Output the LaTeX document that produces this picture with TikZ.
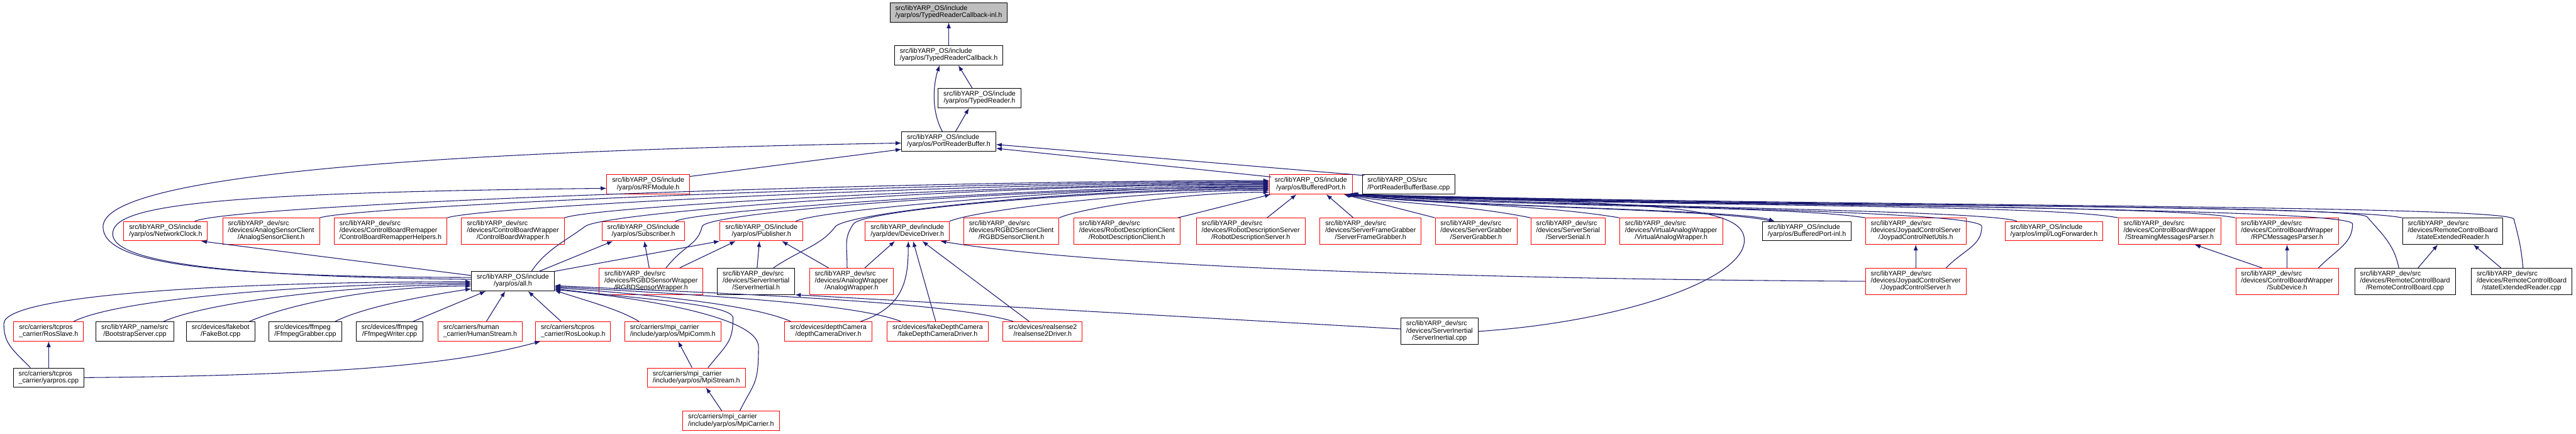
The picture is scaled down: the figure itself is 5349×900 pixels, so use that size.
\documentclass[tikz,border=0pt]{standalone}
\usepackage{fontspec}
\setmainfont{Liberation Sans}
\usetikzlibrary{arrows.meta,calc}
\definecolor{edgeblue}{RGB}{25,25,112}
\newcommand{\mytwo}[2]{\begin{tabular}{@{}l@{}}#1\\\multicolumn{1}{@{}c@{}}{#2}\end{tabular}}
\newcommand{\mythree}[3]{\begin{tabular}{@{}l@{}}#1\\#2\\\multicolumn{1}{@{}c@{}}{#3}\end{tabular}}

\begin{document}
\begin{tikzpicture}[
    x=0.5pt, y=-0.5pt,
    myfile/.style={draw=black, fill=white, line width=0.6pt, inner xsep=5.5pt, inner ysep=2.8pt,
        font=\fontsize{7}{7.2}\selectfont},
    mytrunc/.style={myfile, draw=red},
    myedge/.style={->, >={Latex[length=6pt,width=4.5pt]}, edgeblue, line width=0.7pt}
]
    \useasboundingbox (0,0) rectangle (5349,900);

    % Header chain
    \node[myfile, fill=black!25] (inl) at (1970,26) {\mytwo{src/libYARP\_OS/include}{/yarp/os/TypedReaderCallback-inl.h}};
    \node[myfile] (cb) at (1970,115) {\mytwo{src/libYARP\_OS/include}{/yarp/os/TypedReaderCallback.h}};
    \node[myfile] (tr) at (2034,204) {\mytwo{src/libYARP\_OS/include}{/yarp/os/TypedReader.h}};
    \node[myfile] (prb) at (1970,294) {\mytwo{src/libYARP\_OS/include}{/yarp/os/PortReaderBuffer.h}};
    \node[mytrunc] (rfm) at (1346,383) {\mytwo{src/libYARP\_OS/include}{/yarp/os/RFModule.h}};
    \node[mytrunc] (bp) at (2722,383) {\mytwo{src/libYARP\_OS/include}{/yarp/os/BufferedPort.h}};
    \node[myfile] (prbb) at (2925,383) {\mytwo{src/libYARP\_OS/src}{/PortReaderBufferBase.cpp}};

    % Row under BufferedPort.h
    \node[mytrunc] (nclk) at (344,480) {\mytwo{src/libYARP\_OS/include}{/yarp/os/NetworkClock.h}};
    \node[mytrunc] (ascl) at (563,480) {\mythree{src/libYARP\_dev/src}{/devices/AnalogSensorClient}{/AnalogSensorClient.h}};
    \node[mytrunc] (cbrh) at (811,480) {\mythree{src/libYARP\_dev/src}{/devices/ControlBoardRemapper}{/ControlBoardRemapperHelpers.h}};
    \node[mytrunc] (cbwh) at (1065,480) {\mythree{src/libYARP\_dev/src}{/devices/ControlBoardWrapper}{/ControlBoardWrapper.h}};
    \node[mytrunc] (sub) at (1336,480) {\mytwo{src/libYARP\_OS/include}{/yarp/os/Subscriber.h}};
    \node[mytrunc] (pub) at (1581,480) {\mytwo{src/libYARP\_OS/include}{/yarp/os/Publisher.h}};
    \node[mytrunc] (ddrv) at (1884,480) {\mytwo{src/libYARP\_dev/include}{/yarp/dev/DeviceDriver.h}};
    \node[mytrunc] (rgbdc) at (2100,480) {\mythree{src/libYARP\_dev/src}{/devices/RGBDSensorClient}{/RGBDSensorClient.h}};
    \node[mytrunc] (rdc) at (2340,480) {\mythree{src/libYARP\_dev/src}{/devices/RobotDescriptionClient}{/RobotDescriptionClient.h}};
    \node[mytrunc] (rds) at (2597,480) {\mythree{src/libYARP\_dev/src}{/devices/RobotDescriptionServer}{/RobotDescriptionServer.h}};
    \node[mytrunc] (sfg) at (2846,480) {\mythree{src/libYARP\_dev/src}{/devices/ServerFrameGrabber}{/ServerFrameGrabber.h}};
    \node[mytrunc] (sgr) at (3065,480) {\mythree{src/libYARP\_dev/src}{/devices/ServerGrabber}{/ServerGrabber.h}};
    \node[mytrunc] (sser) at (3256,480) {\mythree{src/libYARP\_dev/src}{/devices/ServerSerial}{/ServerSerial.h}};
    \node[mytrunc] (vaw) at (3470,480) {\mythree{src/libYARP\_dev/src}{/devices/VirtualAnalogWrapper}{/VirtualAnalogWrapper.h}};
    \node[myfile] (bpinl) at (3752,480) {\mytwo{src/libYARP\_OS/include}{/yarp/os/BufferedPort-inl.h}};
    \node[mytrunc] (jcnu) at (3978,480) {\mythree{src/libYARP\_dev/src}{/devices/JoypadControlServer}{/JoypadControlNetUtils.h}};
    \node[mytrunc] (logf) at (4265,480) {\mytwo{src/libYARP\_OS/include}{/yarp/os/impl/LogForwarder.h}};
    \node[mytrunc] (smp) at (4505,480) {\mythree{src/libYARP\_dev/src}{/devices/ControlBoardWrapper}{/StreamingMessagesParser.h}};
    \node[mytrunc] (rpcm) at (4749,480) {\mythree{src/libYARP\_dev/src}{/devices/ControlBoardWrapper}{/RPCMessagesParser.h}};
    \node[myfile] (serh) at (5093,480) {\mythree{src/libYARP\_dev/src}{/devices/RemoteControlBoard}{/stateExtendedReader.h}};

    % all.h row
    \node[myfile] (all) at (1065,584) {\mytwo{src/libYARP\_OS/include}{/yarp/os/all.h}};
    \node[mytrunc] (rgbdw) at (1352,584) {\mythree{src/libYARP\_dev/src}{/devices/RGBDSensorWrapper}{/RGBDSensorWrapper.h}};
    \node[myfile] (sinh) at (1570,584) {\mythree{src/libYARP\_dev/src}{/devices/ServerInertial}{/ServerInertial.h}};
    \node[mytrunc] (anw) at (1768,584) {\mythree{src/libYARP\_dev/src}{/devices/AnalogWrapper}{/AnalogWrapper.h}};
    \node[mytrunc] (jcs) at (3978,584) {\mythree{src/libYARP\_dev/src}{/devices/JoypadControlServer}{/JoypadControlServer.h}};
    \node[mytrunc] (subd) at (4749,584) {\mythree{src/libYARP\_dev/src}{/devices/ControlBoardWrapper}{/SubDevice.h}};
    \node[myfile] (rcb) at (4994,584) {\mythree{src/libYARP\_dev/src}{/devices/RemoteControlBoard}{/RemoteControlBoard.cpp}};
    \node[myfile] (sercpp) at (5236,584) {\mythree{src/libYARP\_dev/src}{/devices/RemoteControlBoard}{/stateExtendedReader.cpp}};

    % Files including all.h
    \node[mytrunc] (rsl) at (101,688) {\mytwo{src/carriers/tcpros}{\_carrier/RosSlave.h}};
    \node[myfile] (bss) at (280,688) {\mytwo{src/libYARP\_name/src}{/BootstrapServer.cpp}};
    \node[myfile] (fbot) at (458,688) {\mytwo{src/devices/fakebot}{/FakeBot.cpp}};
    \node[myfile] (ffg) at (634,688) {\mytwo{src/devices/ffmpeg}{/FfmpegGrabber.cpp}};
    \node[myfile] (ffw) at (809,688) {\mytwo{src/devices/ffmpeg}{/FfmpegWriter.cpp}};
    \node[mytrunc] (hum) at (997,688) {\mytwo{src/carriers/human}{\_carrier/HumanStream.h}};
    \node[mytrunc] (rlk) at (1190,688) {\mytwo{src/carriers/tcpros}{\_carrier/RosLookup.h}};
    \node[mytrunc] (mpic) at (1397,688) {\mytwo{src/carriers/mpi\_carrier}{/include/yarp/os/MpiComm.h}};
    \node[mytrunc] (dcam) at (1720,688) {\mytwo{src/devices/depthCamera}{/depthCameraDriver.h}};
    \node[mytrunc] (fdc) at (1947,688) {\mytwo{src/devices/fakeDepthCamera}{/fakeDepthCameraDriver.h}};
    \node[mytrunc] (rs2) at (2165,688) {\mytwo{src/devices/realsense2}{/realsense2Driver.h}};
    \node[myfile] (sicpp) at (2989,688) {\mythree{src/libYARP\_dev/src}{/devices/ServerInertial}{/ServerInertial.cpp}};
    \node[myfile] (ypr) at (101,784) {\mytwo{src/carriers/tcpros}{\_carrier/yarpros.cpp}};
    \node[mytrunc] (mpis) at (1446,784) {\mytwo{src/carriers/mpi\_carrier}{/include/yarp/os/MpiStream.h}};
    \node[mytrunc] (mpica) at (1518,874) {\mytwo{src/carriers/mpi\_carrier}{/include/yarp/os/MpiCarrier.h}};

    % Header chain edges
    \draw[myedge] (cb) -- (inl);
    \draw[myedge] ($(tr.north)+(-15,0)$) -- ($(cb.south)+(20,0)$);
    \draw[myedge] ($(prb.north)+(-13,0)$) .. controls +(-25,-45) and +(-12,35) .. ($(cb.south)+(-19,0)$);
    \draw[myedge] ($(prb.north)+(14,0)$) -- ($(tr.south)+(-22,0)$);

    % Into PortReaderBuffer.h
    \draw[myedge] ($(rfm.north east)+(0,4)$) -- ($(prb.west)+(0,16)$);
    \draw[myedge] ($(bp.north west)+(4,5)$) -- ($(prb.east)+(0,14)$);
    \draw[myedge] ($(prbb.north west)+(5,2)$) -- ($(prb.east)+(0,6)$);
    \draw[myedge] ($(all.west)+(0,-8)$) .. controls (420,575) and (212,545) .. (214,470)
        .. controls (217,380) and (700,318) .. ($(prb.west)+(0,3)$);
    \draw[myedge] ($(all.west)+(0,-4)$) .. controls (500,575) and (232,548) .. (234,485)
        .. controls (236,430) and (400,400) .. ($(rfm.west)+(0,8)$);
    \draw[myedge] ($(all.west)+(0,-12)$) -- ($(nclk.south east)+(-14,0)$);

    % Into BufferedPort.h from the left
    \draw[myedge] ($(nclk.north east)+(-27,0)$) .. controls +(80,-35) and +(-800,0) .. ($(bp.west)+(0,-8)$);
    \draw[myedge] (ascl.north east) .. controls +(80,-25) and +(-700,0) .. ($(bp.west)+(0,-6)$);
    \draw[myedge] (cbrh.north east) .. controls +(80,-25) and +(-600,0) .. ($(bp.west)+(0,-4)$);
    \draw[myedge] (cbwh.north east) .. controls +(70,-25) and +(-500,0) .. ($(bp.west)+(0,-2)$);
    \draw[myedge] ($(sub.north east)+(-20,0)$) .. controls +(50,-25) and +(-400,0) .. ($(bp.west)+(0,2)$);
    \draw[myedge] ($(pub.north east)+(-15,0)$) .. controls +(50,-25) and +(-350,0) .. ($(bp.west)+(0,4)$);
    \draw[myedge] (ddrv.north east) .. controls +(60,-25) and +(-250,0) .. ($(bp.west)+(0,12)$);
    \draw[myedge] (rgbdc.north east) .. controls +(60,-25) and +(-150,0) .. ($(bp.west)+(0,16)$);
    \draw[myedge] ($(rdc.north east)+(-5,0)$) -- ($(bp.south west)+(3,0)$);
    \draw[myedge] ($(all.north east)+(-48,0)$) .. controls +(30,-45) and +(-40,30) .. (1215,470)
        .. controls +(40,-30) and +(-600,0) .. ($(bp.west)+(0,0)$);
    \draw[myedge] ($(rgbdw.north)+(31,0)$) .. controls +(40,-50) and +(-10,40) .. (1458,470)
        .. controls +(10,-30) and +(-500,0) .. ($(bp.west)+(0,6)$);
    \draw[myedge] ($(sinh.north east)+(-45,0)$) .. controls +(60,-40) and +(-30,40) .. (1735,470)
        .. controls +(30,-30) and +(-400,0) .. ($(bp.west)+(0,8)$);
    \draw[myedge] ($(anw.north)+(-9,0)$) .. controls +(0,-50) and +(-20,30) .. (1772,465)
        .. controls +(20,-30) and +(-350,0) .. ($(bp.west)+(0,10)$);

    % Into BufferedPort.h from the right
    \draw[myedge] ($(rds.north)+(34,0)$) -- ($(bp.south)+(-30,0)$);
    \draw[myedge] ($(sfg.north)+(-36,0)$) -- ($(bp.south)+(32,0)$);
    \draw[myedge] (sgr.north west) -- ($(bp.south east)+(-18,0)$);
    \draw[myedge] (sser.north west) .. controls +(-150,-30) and +(100,20) .. ($(bp.south east)+(-16,0)$);
    \draw[myedge] (vaw.north west) .. controls +(-180,-30) and +(150,20) .. ($(bp.south east)+(-14,0)$);
    \draw[myedge] ($(bp.south east)+(-10,0)$) .. controls +(200,25) and +(-80,-25) .. ($(bpinl.north west)+(26,0)$);
    \draw[myedge] ($(bpinl.north west)+(18,0)$) .. controls +(-80,-25) and +(200,25) .. ($(bp.south east)+(-12,0)$);
    \draw[myedge] (jcnu.north west) .. controls +(-150,-25) and +(300,25) .. ($(bp.south east)+(-9,0)$);
    \draw[myedge] ($(jcs.north east)+(-42,0)$) .. controls +(40,-40) and +(0,40) .. (4115,470)
        .. controls +(0,-35) and +(400,25) .. ($(bp.south east)+(-8,0)$);
    \draw[myedge] ($(logf.north west)+(25,0)$) .. controls +(-60,-25) and +(400,25) .. ($(bp.south east)+(-7,0)$);
    \draw[myedge] (smp.north west) .. controls +(-150,-30) and +(500,25) .. ($(bp.south east)+(-6,0)$);
    \draw[myedge] (rpcm.north west) .. controls +(-150,-30) and +(550,25) .. ($(bp.south east)+(-5,0)$);
    \draw[myedge] ($(subd.north east)+(-42,0)$) .. controls +(40,-40) and +(0,40) .. (4885,465)
        .. controls +(0,-35) and +(800,25) .. ($(bp.south east)+(-4,0)$);
    \draw[myedge] (serh.north west) .. controls +(-150,-30) and +(600,25) .. ($(bp.south east)+(-3,0)$);
    \draw[myedge] ($(rcb.north)+(-13,0)$) .. controls +(-10,-50) and +(30,35) .. (4915,450)
        .. controls +(-30,-25) and +(900,25) .. ($(bp.south east)+(-2,0)$);
    \draw[myedge] ($(sercpp.north)+(3,0)$) .. controls +(-5,-50) and +(10,40) .. (5220,455)
        .. controls +(-10,-30) and +(1000,25) .. ($(bp.south east)+(-1,0)$);
    \draw[myedge] (sicpp.east) .. controls +(300,-20) and +(-2,80) .. (3622,500)
        .. controls (3625,420) and (3400,425) .. (bp.south east);

    % Row 6 and row 7 headers
    \draw[myedge] ($(all.north east)+(-32,0)$) -- ($(sub.south west)+(23,0)$);
    \draw[myedge] (all.north east) -- (pub.south west);
    \draw[myedge] ($(rgbdw.north)+(-4,0)$) -- ($(sub.south)+(2,0)$);
    \draw[myedge] ($(rgbdw.north east)+(-49,0)$) -- ($(pub.south west)+(33,0)$);
    \draw[myedge] ($(sinh.north)+(2,0)$) -- ($(pub.south)+(-4,0)$);
    \draw[myedge] ($(anw.north west)+(40,0)$) -- ($(pub.south east)+(-44,0)$);
    \draw[myedge] ($(anw.north east)+(-60,0)$) -- ($(ddrv.south west)+(62,0)$);
    \draw[myedge] ($(dcam.north east)+(-24,0)$) .. controls +(90,-30) and +(0,80) .. ($(ddrv.south)+(2,0)$);
    \draw[myedge] ($(fdc.north)+(-4,0)$) -- ($(ddrv.south)+(12,0)$);
    \draw[myedge] ($(rs2.north)+(-28,0)$) -- ($(ddrv.south)+(31,0)$);
    \draw[myedge] (jcs.west) .. controls +(-900,-5) and +(300,50) .. ($(ddrv.south east)+(-19,0)$);
    \draw[myedge] (jcs) -- (jcnu);
    \draw[myedge] ($(subd.north west)+(55,0)$) -- ($(smp.south east)+(-55,0)$);
    \draw[myedge] (subd) -- (rpcm);
    \draw[myedge] ($(rcb.north)+(27,0)$) -- ($(serh.south)+(-31,0)$);
    \draw[myedge] ($(sercpp.north)+(-43,0)$) -- ($(serh.south)+(43,0)$);
    \draw[myedge] ($(sicpp.west)+(0,-5)$) -- (sinh.south east);

    % Into all.h
    \draw[myedge] ($(rsl.north east)+(-21,0)$) .. controls +(100,-50) and +(-300,0) .. ($(all.west)+(0,4)$);
    \draw[myedge] ($(bss.north)+(60,0)$) .. controls +(90,-40) and +(-250,0) .. ($(all.west)+(0,7)$);
    \draw[myedge] ($(fbot.north)+(60,0)$) .. controls +(80,-35) and +(-200,0) .. ($(all.west)+(0,10)$);
    \draw[myedge] ($(ffg.north)+(62,0)$) .. controls +(60,-30) and +(-100,15) .. ($(all.south west)+(0,-5)$);
    \draw[myedge] ($(ffw.north)+(49,0)$) -- ($(all.south west)+(30,0)$);
    \draw[myedge] ($(hum.north)+(13,0)$) -- ($(all.south)+(-16,0)$);
    \draw[myedge] ($(rlk.north)+(-25,0)$) -- ($(all.south east)+(-55,0)$);
    \draw[myedge] ($(ypr.north west)+(36,0)$) .. controls +(-40,-40) and +(0,40) .. (8,672)
        .. controls +(0,-60) and +(-500,0) .. ($(all.west)+(0,1)$);
    \draw[myedge] ($(mpic.north west)+(30,0)$) .. controls +(-40,-25) and +(60,20) .. ($(all.south east)+(0,-2)$);
    \draw[myedge] ($(dcam.north west)+(13,0)$) .. controls +(-80,-35) and +(200,15) .. ($(all.east)+(0,13)$);
    \draw[myedge] ($(fdc.north west)+(29,0)$) .. controls +(-100,-40) and +(250,15) .. ($(all.east)+(0,11)$);
    \draw[myedge] ($(rs2.north west)+(22,0)$) .. controls +(-150,-45) and +(300,15) .. ($(all.east)+(0,9)$);
    \draw[myedge] ($(mpis.north east)+(-78,0)$) .. controls +(40,-50) and +(0,50) .. (1522,660)
        .. controls +(0,-30) and +(150,20) .. ($(all.east)+(0,15)$);
    \draw[myedge] ($(mpica.north)+(18,0)$) .. controls +(30,-60) and +(0,80) .. (1575,720)
        .. controls +(0,-60) and +(200,20) .. ($(all.east)+(0,17)$);

    % Lower files
    \draw[myedge] (ypr) -- (rsl);
    \draw[myedge] (ypr.east) .. controls +(600,-5) and +(-150,40) .. ($(rlk.south west)+(11,0)$);
    \draw[myedge] ($(mpis.north)+(-9,0)$) -- ($(mpic.south)+(11,0)$);
    \draw[myedge] ($(mpica.north)+(-19,0)$) -- ($(mpis.south)+(20,0)$);
\end{tikzpicture}
\end{document}
